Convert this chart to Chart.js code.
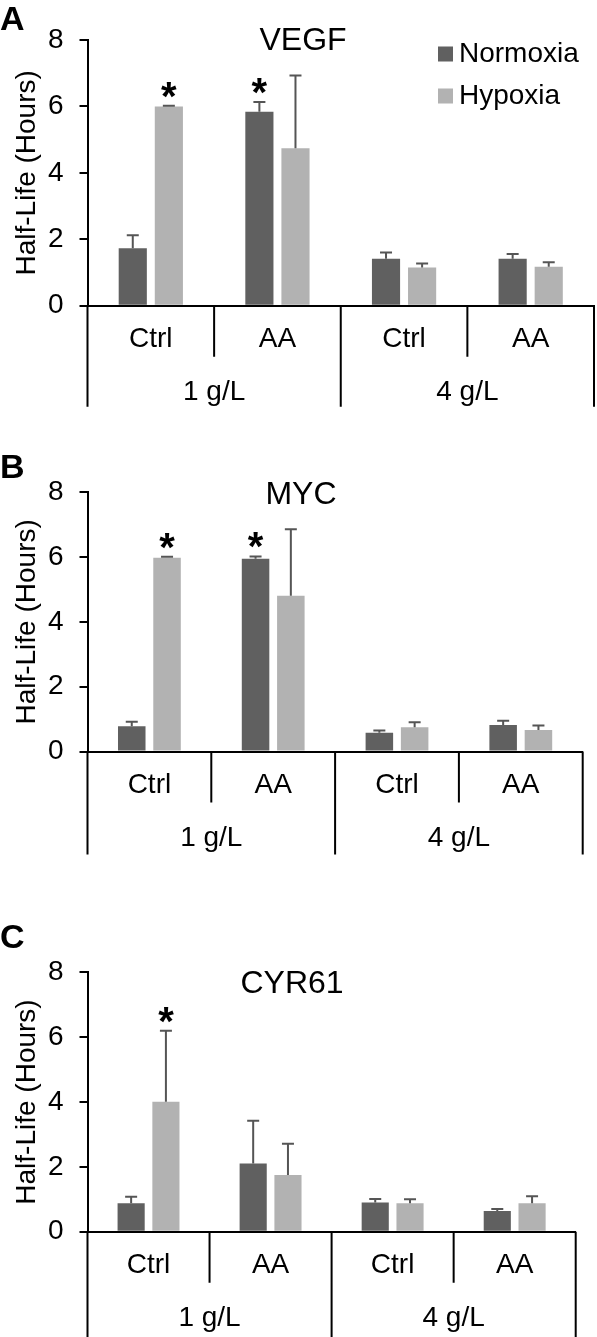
<!DOCTYPE html>
<html>
<head>
<meta charset="utf-8">
<title>mRNA half-life</title>
<script src="https://cdn.jsdelivr.net/npm/chart.js@4/dist/chart.umd.min.js"></script>
<style>
body { margin: 0; background: #fff; }
canvas { display: block; }
</style>
</head>
<body>
<canvas id="panelA" width="597" height="450"></canvas>
<canvas id="panelB" width="597" height="430"></canvas>
<canvas id="panelC" width="597" height="457"></canvas>

<script>
// data
var categories = ['Ctrl', 'AA', 'Ctrl', 'AA'];
var groups = ['1 g/L', '4 g/L'];
var seriesNames = ['Normoxia', 'Hypoxia'];
var yTicks = [0, 2, 4, 6, 8];

var vegfNorm    = [1.73, 5.84, 1.41, 1.41];
var vegfNormErr = [0.39, 0.29, 0.19, 0.15];
var vegfHyp     = [6.00, 4.74, 1.15, 1.17];
var vegfHypErr  = [0.02, 2.19, 0.12, 0.14];
var vegfNormSig = [0, 1, 0, 0];
var vegfHypSig  = [1, 0, 0, 0];

var mycNorm     = [0.78, 5.95, 0.58, 0.82];
var mycNormErr  = [0.14, 0.07, 0.07, 0.13];
var mycHyp      = [5.98, 4.81, 0.75, 0.66];
var mycHypErr   = [0.03, 2.05, 0.15, 0.14];
var mycNormSig  = [0, 1, 0, 0];
var mycHypSig   = [1, 0, 0, 0];

var cyrNorm     = [0.88, 2.10, 0.90, 0.64];
var cyrNormErr  = [0.20, 1.32, 0.11, 0.06];
var cyrHyp      = [4.01, 1.75, 0.88, 0.88];
var cyrHypErr   = [2.19, 0.96, 0.12, 0.21];
var cyrNormSig  = [0, 0, 0, 0];
var cyrHypSig   = [1, 0, 0, 0];

var NORM_COLOR = '#606060';
var HYP_COLOR = '#b2b2b2';
var ERR_COLOR = '#555555';
var FONT = "'Liberation Sans', Arial, sans-serif";

Chart.defaults.font.family = FONT;
Chart.defaults.color = '#000';

// draws error bars, stars, the two level x axis, title, panel letter, legend
var decor = {
    id: 'decor',
    afterDatasetsDraw: function(chart) {
        var ctx = chart.ctx;
        var ys = chart.scales.y;
        ctx.save();
        chart.data.datasets.forEach(function(ds, d) {
            var meta = chart.getDatasetMeta(d);
            meta.data.forEach(function(bar, i) {
                var v = ds.data[i];
                var top = ys.getPixelForValue(v + ds.errors[i]);
                var base = ys.getPixelForValue(v);
                ctx.strokeStyle = ERR_COLOR;
                ctx.lineWidth = 2;
                ctx.beginPath();
                ctx.moveTo(bar.x, base);
                ctx.lineTo(bar.x, top);
                ctx.moveTo(bar.x - 6, top);
                ctx.lineTo(bar.x + 6, top);
                ctx.stroke();
                if (ds.sig[i]) {
                    ctx.fillStyle = '#000';
                    ctx.font = 'bold 40px ' + FONT;
                    ctx.textAlign = 'center';
                    ctx.textBaseline = 'alphabetic';
                    ctx.fillText('*', bar.x, top + 4);
                }
            });
        });
        ctx.restore();
    },
    afterDraw: function(chart) {
        var ctx = chart.ctx;
        var xs = chart.scales.x;
        var ys = chart.scales.y;
        var o = chart.options.plugins.decor;
        var y0 = ys.getPixelForValue(0);
        ctx.save();
        ctx.strokeStyle = '#000';
        ctx.lineWidth = 2;
        ctx.beginPath();
        for (var k = 0; k <= categories.length; k++) {
            var x = xs.getPixelForValue(k - 0.5);
            var len = (k % 2 == 0) ? o.groupLen : 51;
            ctx.moveTo(x, y0);
            ctx.lineTo(x, y0 + len);
        }
        ctx.stroke();

        ctx.fillStyle = '#000';
        ctx.textAlign = 'center';
        ctx.textBaseline = 'middle';
        ctx.font = '28px ' + FONT;
        for (var g = 0; g < groups.length; g++) {
            var gx = (xs.getPixelForValue(2 * g) + xs.getPixelForValue(2 * g + 1)) / 2;
            ctx.fillText(groups[g], gx, y0 + 87);
        }

        ctx.textBaseline = 'alphabetic';
        ctx.font = '32px ' + FONT;
        ctx.fillText(o.title, o.titleX, o.titleY);

        ctx.textAlign = 'left';
        ctx.font = 'bold 34px ' + FONT;
        ctx.fillText(o.letter, 0, o.letterY);

        if (o.legend) {
            ctx.font = '28px ' + FONT;
            ctx.textBaseline = 'middle';
            chart.data.datasets.forEach(function(ds, d) {
                var cy = 54 + d * 42;
                ctx.fillStyle = ds.backgroundColor;
                ctx.fillRect(438, cy - 7.5, 15, 15);
                ctx.fillStyle = '#000';
                ctx.fillText(ds.label, 459, cy);
            });
        }
        ctx.restore();
    }
};

function panel(id, p) {
    new Chart(document.getElementById(id), {
        type: 'bar',
        data: {
            labels: categories,
            datasets: [{
                label: seriesNames[0],
                data: p.norm,
                errors: p.normErr,
                sig: p.normSig,
                backgroundColor: NORM_COLOR,
                categoryPercentage: 0.57,
                barPercentage: 0.78
            }, {
                label: seriesNames[1],
                data: p.hyp,
                errors: p.hypErr,
                sig: p.hypSig,
                backgroundColor: HYP_COLOR,
                categoryPercentage: 0.57,
                barPercentage: 0.78
            }]
        },
        options: {
            responsive: false,
            animation: false,
            layout: { padding: p.pad },
            plugins: {
                legend: { display: false },
                tooltip: { enabled: false },
                decor: p
            },
            scales: {
                x: {
                    offset: true,
                    grid: { display: false, drawTicks: false },
                    border: { display: true, color: '#000', width: 2 },
                    ticks: { font: { size: 28 }, color: '#000', padding: 17, maxRotation: 0, autoSkip: false },
                    afterFit: function(s) { s.height = 60; }
                },
                y: {
                    min: 0,
                    max: 8,
                    afterBuildTicks: function(s) { s.ticks = yTicks.map(function(v) { return { value: v }; }); },
                    grid: { drawOnChartArea: false, drawTicks: true, tickLength: 8, color: '#000', lineWidth: 2 },
                    border: { display: true, color: '#000', width: 2 },
                    ticks: { font: { size: 28 }, color: '#000', padding: 16 },
                    title: { display: true, text: 'Half-Life (Hours)', font: { size: 28 }, color: '#000', padding: { top: 10, bottom: 0 } },
                    afterFit: function(s) { s.width = 87.5; }
                }
            }
        },
        plugins: [decor]
    });
}

panel('panelA', {
    letter: 'A', letterY: 30, title: 'VEGF', titleX: 303, titleY: 50, legend: true, groupLen: 101,
    norm: vegfNorm, normErr: vegfNormErr, normSig: vegfNormSig,
    hyp: vegfHyp, hypErr: vegfHypErr, hypSig: vegfHypSig,
    pad: { top: 40, left: 0, right: 3, bottom: 84.3 }
});
panel('panelB', {
    letter: 'B', letterY: 28, title: 'MYC', titleX: 301, titleY: 54, legend: false, groupLen: 103,
    norm: mycNorm, normErr: mycNormErr, normSig: mycNormSig,
    hyp: mycHyp, hypErr: mycHypErr, hypSig: mycHypSig,
    pad: { top: 42.3, left: 0, right: 14.3, bottom: 68.5 }
});
panel('panelC', {
    letter: 'C', letterY: 68, title: 'CYR61', titleX: 292, titleY: 113, legend: false, groupLen: 106,
    norm: cyrNorm, normErr: cyrNormErr, normSig: cyrNormSig,
    hyp: cyrHyp, hypErr: cyrHypErr, hypSig: cyrHypSig,
    pad: { top: 92.3, left: 0, right: 21.3, bottom: 45.3 }
});
</script>
</body>
</html>
